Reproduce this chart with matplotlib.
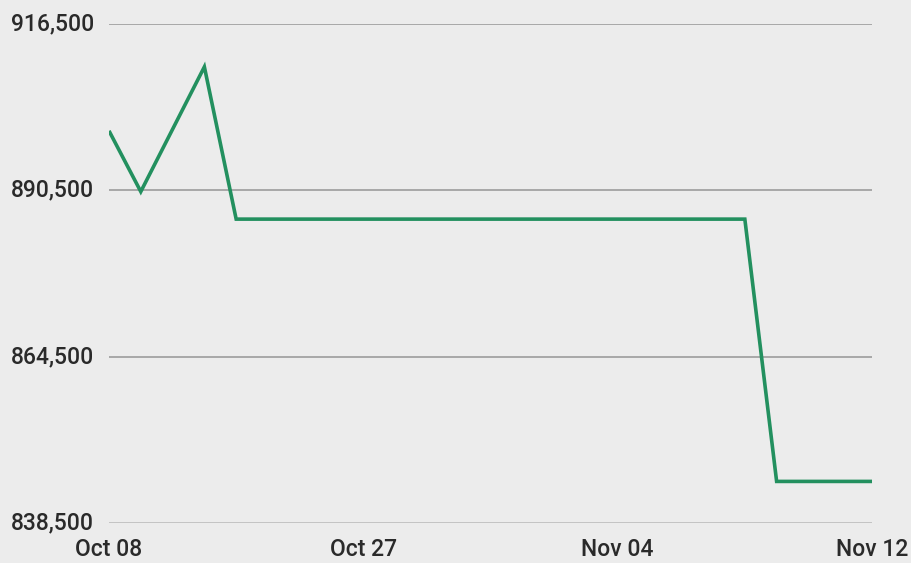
import matplotlib
matplotlib.use("Agg")
import matplotlib.pyplot as plt
import matplotlib.transforms as mtransforms

values = [899800, 890300, 900050, 909800, 886000, 886000, 886000, 886000,
          886000, 886000, 886000, 886000, 886000, 886000, 886000, 886000,
          886000, 886000, 886000, 886000, 886000, 845000, 845000, 845000, 845000]
tick_positions = [0, 8, 16, 24]
tick_labels = ["Oct 08", "Oct 27", "Nov 04", "Nov 12"]
y_ticks = [838500, 864500, 890500, 916500]

plt.rcParams['font.family'] = ['Roboto', 'DejaVu Sans']
bg = '#ececec'
fig = plt.figure(figsize=(9.11, 5.63), dpi=100, facecolor=bg)
ax = fig.add_axes([109/911, 1-523/563, (872-109)/911, (523-24)/563])
ax.set_facecolor(bg)

for yv in y_ticks[1:]:
    ax.axhline(yv, color='#959595', lw=1.1, zorder=1)
ax.axhline(y_ticks[0], color='#c0c0c0', lw=2.0, zorder=1)

ax.plot(range(len(values)), values, color='#23905f', lw=2.6, zorder=3,
        solid_joinstyle='miter', solid_capstyle='butt')

ax.set_xlim(0, len(values) - 1)
ax.set_ylim(y_ticks[0], y_ticks[-1])
for s in ax.spines.values():
    s.set_visible(False)
ax.set_yticks([])
ax.set_xticks([])

trans = mtransforms.blended_transform_factory(fig.transFigure, ax.transData)
for yv in y_ticks:
    ax.text(94/911, yv, f"{yv:,}", transform=trans, ha='right', va='center',
            fontsize=16.5, fontweight='medium', color='#2a2a2a', clip_on=False)

transx = mtransforms.blended_transform_factory(ax.transData, fig.transFigure)
for p, lab in zip(tick_positions, tick_labels):
    ax.text(p, 1-549/563, lab, transform=transx, ha='center', va='center',
            fontsize=16.5, fontweight='medium', color='#2a2a2a', clip_on=False)

fig.savefig("out.png", dpi=100, facecolor=bg)
